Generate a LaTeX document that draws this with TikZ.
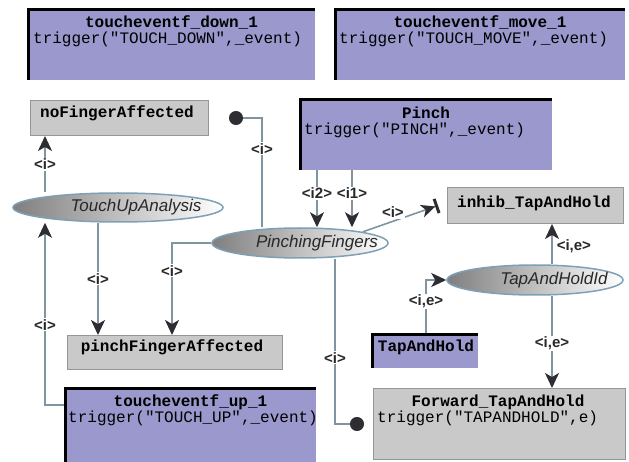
\documentclass[tikz,border=0pt]{standalone}
\usepackage{fontspec}
\setmainfont{Liberation Sans}
\setmonofont{Liberation Mono}
\usetikzlibrary{arrows.meta,calc,backgrounds,shapes.geometric}

\definecolor{boxpurple}{RGB}{155,152,205}
\definecolor{boxgray}{RGB}{201,201,201}
\definecolor{grayedge}{RGB}{150,150,150}
\definecolor{linec}{RGB}{128,148,162}
\definecolor{tipc}{RGB}{45,45,50}
\definecolor{ellc}{RGB}{125,160,182}
\definecolor{txtc}{RGB}{40,40,40}

\begin{document}
\begin{tikzpicture}[x=1pt,y=-1pt,
  pbox/.style={rectangle, fill=boxpurple, draw=none, anchor=north west, inner sep=0pt},
  gbox/.style={rectangle, fill=boxgray, draw=grayedge, line width=1pt, anchor=north west, inner sep=0pt},
  ell/.style={ellipse, draw=ellc, line width=1.5pt, left color=black!50, middle color=black!12, right color=white, inner sep=0pt},
  etext/.style={font=\fontsize{17}{17}\selectfont\itshape, text=txtc, inner sep=0pt},
  ttl/.style={font=\fontsize{16}{16}\selectfont\ttfamily\bfseries, text=black, inner sep=0pt},
  trg/.style={font=\fontsize{16}{16}\selectfont\ttfamily, text=black, inner sep=0pt, anchor=west},
  lbl/.style={font=\fontsize{15}{15}\selectfont\bfseries, text=txtc, fill=white, inner sep=1pt},
  conn/.style={draw=linec, line width=1.6pt},
  arr/.style={conn, -{Stealth[length=15pt,width=14pt,inset=4pt,color=tipc]}},
  dotend/.style={conn, -{Circle[length=14pt,width=14pt,color=tipc]}},
  inh/.style={conn, -{Stealth[length=14pt,width=13pt,inset=4pt,color=tipc]Bar[width=15pt,line width=3pt,color=tipc]}},
  edgeb/.style={line width=3pt, black}
]
\useasboundingbox (0,0) rectangle (629,462);

% purple boxes
\node[pbox, minimum width=287pt, minimum height=70pt] (down) at (28,10) {};
\node[pbox, minimum width=290pt, minimum height=70pt] (move) at (335,10) {};
\node[pbox, minimum width=252pt, minimum height=70pt] (pinch) at (300,100) {};
\node[pbox, minimum width=106pt, minimum height=34pt] (tah) at (372,334) {};
\node[pbox, minimum width=251pt, minimum height=74pt] (up) at (65,388) {};
\foreach \b in {down,move,pinch,tah,up}
  \draw[edgeb] (\b.south west) -- (\b.north west) -- (\b.north east);

% gray boxes
\node[gbox, minimum width=178pt, minimum height=35pt] (nofa) at (30,100) {};
\node[gbox, minimum width=176pt, minimum height=36pt] (inhib) at (447,187) {};
\node[gbox, minimum width=215pt, minimum height=34pt] (pfa) at (67,335) {};
\node[gbox, minimum width=252pt, minimum height=71pt] (fwd) at (373,388) {};

% ellipses
\node[ell, minimum width=210pt, minimum height=29pt] (tua) at (118,207.5) {};
\node[ell, minimum width=176pt, minimum height=30pt] (pf) at (300,243) {};
\node[ell, minimum width=176pt, minimum height=30pt] (tahid) at (535,280) {};
\node[etext] (tuat) at (136,207.5) {TouchUpAnalysis};
\node[etext] (pft) at (317,243) {PinchingFingers};
\node[etext] (tahidt) at (554,280) {TapAndHoldId};

% box texts
\node[ttl] (downt) at (171.5,22) {toucheventf\_down\_1};
\node[trg] (downg) at (33,39) {trigger("TOUCH\_DOWN",\_event)};
\node[ttl] (movet) at (480,22) {toucheventf\_move\_1};
\node[trg] (moveg) at (339,39) {trigger("TOUCH\_MOVE",\_event)};
\node[ttl] (pincht) at (426,113) {Pinch};
\node[trg] (pinchg) at (304,130) {trigger("PINCH",\_event)};
\node[ttl] (upt) at (190.5,402) {toucheventf\_up\_1};
\node[trg] (upg) at (68,418) {trigger("TOUCH\_UP",\_event)};
\node[ttl] (fwdt) at (498,402) {Forward\_TapAndHold};
\node[trg] (fwdg) at (377,418) {trigger("TAPANDHOLD",e)};
\node[ttl] (nofat) at (117,113) {noFingerAffected};
\node[ttl] (inhibt) at (534,203) {inhib\_TapAndHold};
\node[ttl] (pfat) at (172,347) {pinchFingerAffected};
\node[ttl] (taht) at (426,347) {TapAndHold};

% x positions
\coordinate (xa) at (45,0);
\coordinate (xc) at (98,0);
\coordinate (xd) at (172,0);
\coordinate (xe) at (262,0);
\coordinate (xf) at (317,0);
\coordinate (xg) at (352,0);
\coordinate (xh) at (552,0);
\coordinate (xi) at (426,0);
\coordinate (xj) at (335,0);
\coordinate (yb) at (0,405);

\begin{scope}[on background layer]
\draw[arr] (tua.north -| xa) -- node[lbl, pos=0.5] {<i>} (nofa.south -| xa);
\draw[arr] (up.west |- yb) -| node[lbl, pos=0.72] {<i>} (tua.south -| xa);
\draw[arr] (tua.south -| xc) -- node[lbl, pos=0.5] {<i>} (pfa.north -| xc);
\draw[arr] (pf.west) -| node[lbl, pos=0.65] {<i>} (pfa.north -| xd);
\draw[dotend] (pf.north -| xe) |- node[lbl, pos=0.36] {<i>} ([xshift=20pt]nofa.east);
\draw[arr] (pinch.south -| xf) -- node[lbl, pos=0.4] {<i2>} (pf.north -| xf);
\draw[arr] (pinch.south -| xg) -- node[lbl, pos=0.4] {<i1>} (pf.north -| xg);
\draw[inh] (pf.north east) -- node[lbl, pos=0.4, yshift=9pt] {<i>} ([xshift=-9pt]inhib.west);
\draw[arr] (tahid.north -| xh) -- node[lbl, pos=0.45, anchor=west, xshift=3pt] {<i,e>} (inhib.south -| xh);
\draw[arr] (tah.north -| xi) |- node[lbl, pos=0.3] {<i,e>} (tahid.west);
\draw[arr] (tahid.south -| xh) -- node[lbl, pos=0.52] {<i,e>} (fwd.north -| xh);
\draw[dotend] (pf.south -| xj) |- node[lbl, pos=0.3] {<i>} ([xshift=-9pt]fwd.west);
\end{scope}
\end{tikzpicture}
\end{document}
